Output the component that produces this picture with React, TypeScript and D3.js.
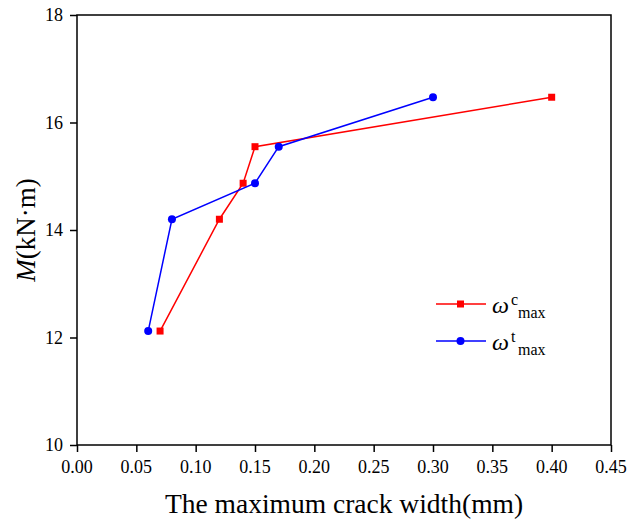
import React, { useEffect, useRef } from 'react'
import * as d3 from 'd3'

// crack width (mm) vs moment (kN·m)
const compX = [0.07, 0.12, 0.14, 0.15, 0.40]
const compY = [12.12, 14.2, 14.87, 15.55, 16.47]
const tensX = [0.06, 0.08, 0.15, 0.17, 0.30]
const tensY = [12.12, 14.2, 14.87, 15.55, 16.47]
const xTicks = [0, 0.05, 0.1, 0.15, 0.2, 0.25, 0.3, 0.35, 0.4, 0.45]
const yTicks = [10, 12, 14, 16, 18]

const W = 627, H = 523
const left = 77, right = 611, top = 15, bottom = 445
const font = "'Liberation Serif', 'Times New Roman', serif"

export default function App() {
  const ref = useRef<SVGSVGElement>(null)

  useEffect(() => {
    const svg = d3.select(ref.current)
    svg.selectAll('*').remove()

    const x = d3.scaleLinear().domain([0, 0.45]).range([left, right])
    const y = d3.scaleLinear().domain([10, 18]).range([bottom, top])

    // frame
    svg.append('rect')
      .attr('x', left).attr('y', top)
      .attr('width', right - left).attr('height', bottom - top)
      .attr('fill', 'none').attr('stroke', '#000').attr('stroke-width', 1.5)

    const xAxis = svg.append('g')
      .attr('transform', `translate(0,${bottom})`)
      .call(d3.axisBottom(x).tickValues(xTicks).tickFormat(() => '').tickSize(7))
    const yAxis = svg.append('g')
      .attr('transform', `translate(${left},0)`)
      .call(d3.axisLeft(y).tickValues(yTicks).tickFormat(() => '').tickSize(7))

    for (const ax of [xAxis, yAxis]) {
      ax.select('.domain').remove()
      ax.selectAll('text').remove()
      ax.selectAll('line').attr('stroke', '#000').attr('stroke-width', 1.5)
    }

    // tick labels drawn as plain text so the serif face sticks
    const fmt = d3.format('.2f')
    svg.append('g').selectAll('text').data(xTicks).enter().append('text')
      .attr('x', d => x(d)).attr('y', 473)
      .attr('text-anchor', 'middle')
      .style('font-family', font).style('font-size', '18px').attr('fill', '#000')
      .text(d => fmt(d))
    svg.append('g').selectAll('text').data(yTicks).enter().append('text')
      .attr('x', left - 14).attr('y', d => y(d) + 6)
      .attr('text-anchor', 'end')
      .style('font-family', font).style('font-size', '18px').attr('fill', '#000')
      .text(d => String(d))

    const line = d3.line<[number, number]>().x(d => x(d[0])).y(d => y(d[1]))

    const series = [
      { xs: compX, ys: compY, color: '#ff0000', shape: 'square' },
      { xs: tensX, ys: tensY, color: '#0000ff', shape: 'circle' },
    ]

    series.forEach(s => {
      const pts = s.xs.map((v, i) => [v, s.ys[i]] as [number, number])
      svg.append('path')
        .attr('d', line(pts))
        .attr('fill', 'none').attr('stroke', s.color).attr('stroke-width', 1.5)
      if (s.shape === 'square') {
        svg.selectAll(null).data(pts).enter().append('rect')
          .attr('x', d => x(d[0]) - 3.5).attr('y', d => y(d[1]) - 3.5)
          .attr('width', 7).attr('height', 7).attr('fill', s.color)
      } else {
        svg.selectAll(null).data(pts).enter().append('circle')
          .attr('cx', d => x(d[0])).attr('cy', d => y(d[1]))
          .attr('r', 4).attr('fill', s.color)
      }
    })

    // legend
    const leg = [
      { color: '#ff0000', shape: 'square', sup: 'c', ly: 304 },
      { color: '#0000ff', shape: 'circle', sup: 't', ly: 341 },
    ]
    leg.forEach(l => {
      svg.append('line').attr('x1', 436).attr('x2', 486).attr('y1', l.ly).attr('y2', l.ly)
        .attr('stroke', l.color).attr('stroke-width', 1.5)
      if (l.shape === 'square') {
        svg.append('rect').attr('x', 457).attr('y', l.ly - 3.5).attr('width', 7).attr('height', 7).attr('fill', l.color)
      } else {
        svg.append('circle').attr('cx', 460.5).attr('cy', l.ly).attr('r', 4).attr('fill', l.color)
      }
      const g = svg.append('g').attr('fill', '#000')
      g.append('text').attr('x', 492).attr('y', l.ly + 9)
        .style('font-family', font).style('font-size', '24px').style('font-style', 'italic').text('ω')
      g.append('text').attr('x', 511).attr('y', l.ly + 1)
        .style('font-family', font).style('font-size', '16px').text(l.sup)
      g.append('text').attr('x', 518).attr('y', l.ly + 14)
        .style('font-family', font).style('font-size', '16px').text('max')
    })

    svg.append('text')
      .attr('x', (left + right) / 2).attr('y', 513)
      .attr('text-anchor', 'middle').style('font-family', font).style('font-size', '27.5px').attr('fill', '#000')
      .text('The maximum crack width(mm)')

    const yl = svg.append('text')
      .attr('transform', `translate(35,${(top + bottom) / 2}) rotate(-90)`)
      .attr('text-anchor', 'middle').style('font-family', font).style('font-size', '27px').attr('fill', '#000')
    yl.append('tspan').style('font-style', 'italic').text('M')
    yl.append('tspan').text('(kN·m)')
  }, [])

  return (
    <svg ref={ref} width={W} height={H} style={{ position: 'absolute', left: 0, top: 0, background: '#fff' }} />
  )
}
